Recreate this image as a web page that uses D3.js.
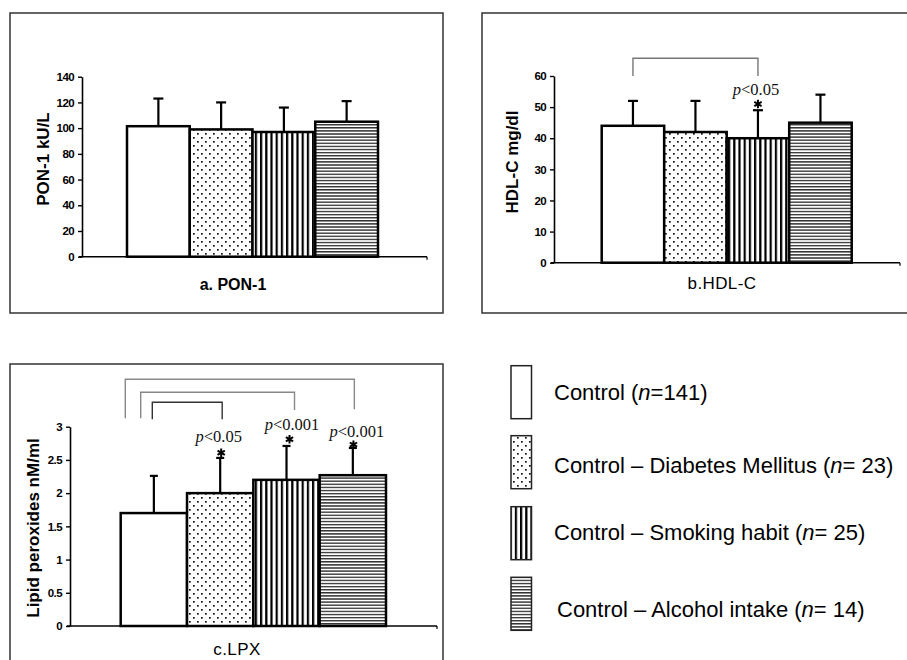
<!DOCTYPE html>
<html>
<head>
<meta charset="utf-8">
<script src="https://cdn.jsdelivr.net/npm/d3@7"></script>
<style>
  html, body { margin: 0; padding: 0; background: #fff; }
  svg { display: block; }
</style>
</head>
<body>
<svg id="chart" width="907" height="660"></svg>
<script>
// ---------------- DATA ----------------
const categories = ["Control", "Control – Diabetes Mellitus", "Control – Smoking habit", "Control – Alcohol intake"];
const legendPrefix = ["Control (", "Control – Diabetes Mellitus (", "Control – Smoking habit (", "Control – Alcohol intake ("];
const legendSuffix = ["=141)", "= 23)", "= 25)", "= 14)"];

const ponMean = [101.5, 99, 97, 105];
const ponSD   = [21.5, 21, 19, 16];
const ponTicks = [0, 20, 40, 60, 80, 100, 120, 140];

const hdlMean = [44, 42, 40, 45];
const hdlSD   = [8, 10, 9, 9];
const hdlTicks = [0, 10, 20, 30, 40, 50, 60];
const hdlSig = [{ from: 0, to: 2, p: "<0.05" }];

const lpxMean = [1.7, 2.0, 2.2, 2.27];
const lpxSD   = [0.56, 0.53, 0.51, 0.41];
const lpxTicks = [0, 0.5, 1, 1.5, 2, 2.5, 3];
const lpxSig = [{ from: 0, to: 1, p: "<0.05" }, { from: 0, to: 2, p: "<0.001" }, { from: 0, to: 3, p: "<0.001" }];

// ---------------- DRAWING ----------------
const svg = d3.select("#chart");
const fills = ["#fff", "url(#pDots)", "url(#pV)", "url(#pH)"];

const defs = svg.append("defs");
const pd = defs.append("pattern").attr("id", "pDots").attr("patternUnits", "userSpaceOnUse")
  .attr("width", 8).attr("height", 8);
pd.append("rect").attr("width", 8).attr("height", 8).attr("fill", "#fff");
pd.append("rect").attr("x", 1).attr("y", 1).attr("width", 1.7).attr("height", 1.7).attr("fill", "#111");
pd.append("rect").attr("x", 5).attr("y", 5).attr("width", 1.7).attr("height", 1.7).attr("fill", "#111");
const pv = defs.append("pattern").attr("id", "pV").attr("patternUnits", "userSpaceOnUse")
  .attr("width", 5.2).attr("height", 5);
pv.append("rect").attr("width", 5.2).attr("height", 5).attr("fill", "#fff");
pv.append("rect").attr("x", 0).attr("width", 2.2).attr("height", 5).attr("fill", "#000");
const ph = defs.append("pattern").attr("id", "pH").attr("patternUnits", "userSpaceOnUse")
  .attr("width", 5).attr("height", 3.1);
ph.append("rect").attr("width", 5).attr("height", 3.1).attr("fill", "#fff");
ph.append("rect").attr("y", 0).attr("width", 5).attr("height", 1.4).attr("fill", "#333");

function panel(cfg) {
  const g = svg.append("g");
  g.append("rect").attr("x", cfg.box[0]).attr("y", cfg.box[1]).attr("width", cfg.box[2]).attr("height", cfg.box[3])
    .attr("fill", "none").attr("stroke", "#333").attr("stroke-width", 1.5);

  const x = d3.scaleBand().domain(categories).range([cfg.barL, cfg.barR]).padding(0);
  const y = d3.scaleLinear().domain([0, cfg.max]).range([cfg.y0, cfg.y1]);

  g.selectAll(".bar").data(cfg.mean).join("rect")
    .attr("x", (d, i) => x(categories[i]))
    .attr("y", d => y(d))
    .attr("width", x.bandwidth())
    .attr("height", d => y(0) - y(d))
    .attr("fill", (d, i) => fills[i])
    .attr("stroke", "#000").attr("stroke-width", 2.5);

  const cx = i => x(categories[i]) + x.bandwidth() / 2;
  g.selectAll(".err").data(cfg.mean).join("line")
    .attr("x1", (d, i) => cx(i)).attr("x2", (d, i) => cx(i))
    .attr("y1", d => y(d)).attr("y2", (d, i) => y(d + cfg.sd[i]))
    .attr("stroke", "#000").attr("stroke-width", 2.2);
  g.selectAll(".cap").data(cfg.mean).join("line")
    .attr("x1", (d, i) => cx(i) - cfg.cap).attr("x2", (d, i) => cx(i) + cfg.cap)
    .attr("y1", (d, i) => y(d + cfg.sd[i])).attr("y2", (d, i) => y(d + cfg.sd[i]))
    .attr("stroke", "#000").attr("stroke-width", 2.2);

  const ax = g.append("g").attr("transform", `translate(${cfg.axisX},0)`)
    .call(d3.axisLeft(y).tickValues(cfg.ticks).tickSize(4).tickSizeOuter(0).tickPadding(4).tickFormat(d => String(d)));
  ax.select(".domain").attr("stroke", "#000").attr("stroke-width", 1.6);
  ax.selectAll(".tick line").attr("stroke", "#000").attr("stroke-width", 1.4);
  ax.selectAll(".tick text").attr("font-family", "Liberation Sans, Arial, sans-serif")
    .attr("font-size", 11.5).attr("font-weight", "bold").attr("fill", "#000").attr("letter-spacing", -0.6);

  g.append("line").attr("x1", cfg.axisX - 3).attr("x2", cfg.axisEnd).attr("y1", y(0)).attr("y2", y(0))
    .attr("stroke", "#000").attr("stroke-width", 1.6);
  g.append("line").attr("x1", cfg.axisEnd).attr("x2", cfg.axisEnd).attr("y1", y(0)).attr("y2", y(0) + 3)
    .attr("stroke", "#000").attr("stroke-width", 1.2);

  g.append("text").attr("transform", `translate(${cfg.ylab[0]},${cfg.ylab[1]}) rotate(-90)`)
    .attr("text-anchor", "middle").attr("dominant-baseline", "central")
    .attr("font-family", "Liberation Sans, Arial, sans-serif").attr("font-size", 17).attr("font-weight", "bold")
    .text(cfg.ylabel);

  g.append("text").attr("x", cfg.title[0]).attr("y", cfg.title[1]).attr("text-anchor", "middle")
    .attr("font-family", "Liberation Sans, Arial, sans-serif").attr("font-size", cfg.titleSize)
    .attr("font-weight", cfg.titleBold ? "bold" : "normal").attr("letter-spacing", cfg.titleBold ? 0 : 0.4)
    .text(cfg.titleText);

  return { x, y, cx, g };
}

panel({
  box: [10, 13, 433, 300], barL: 127, barR: 378, y0: 256.7, y1: 76.7, max: 140,
  axisX: 82, axisEnd: 427, ticks: ponTicks, mean: ponMean, sd: ponSD, cap: 5,
  ylabel: "PON-1 kU/L", ylab: [43, 159], title: [233, 290], titleText: "a. PON-1", titleSize: 16, titleBold: true
});

const pb = panel({
  box: [482, 13, 440, 300], barL: 601.7, barR: 851.7, y0: 262.7, y1: 76, max: 60,
  axisX: 554, axisEnd: 900, ticks: hdlTicks, mean: hdlMean, sd: hdlSD, cap: 5,
  ylabel: "HDL-C mg/dl", ylab: [512, 162], title: [722, 289], titleText: "b.HDL-C", titleSize: 17, titleBold: false
});

const pc = panel({
  box: [10, 364, 433, 320], barL: 120.7, barR: 386, y0: 626, y1: 426.7, max: 3,
  axisX: 70, axisEnd: 437, ticks: lpxTicks, mean: lpxMean, sd: lpxSD, cap: 4,
  ylabel: "Lipid peroxides nM/ml", ylab: [33, 528], title: [237, 655], titleText: "c.LPX", titleSize: 17, titleBold: false
});

function pLabel(g, xc, yb, p) {
  const t = g.append("text").attr("x", xc).attr("y", yb).attr("text-anchor", "middle")
    .attr("font-family", "Liberation Serif, Times New Roman, serif").attr("font-size", 16.5).attr("fill", "#111");
  t.append("tspan").attr("font-style", "italic").text("p");
  t.append("tspan").text(p);
}
// asterisk drawn as a small six-armed mark
function star(g, xc, yc) {
  const r = 4.2;
  const d = [90, 30, 150].map(a => {
    const rad = a * Math.PI / 180, dx = r * Math.cos(rad), dy = r * Math.sin(rad);
    return `M${xc - dx},${yc - dy} L${xc + dx},${yc + dy}`;
  }).join(" ");
  g.append("path").attr("d", d).attr("stroke", "#000").attr("stroke-width", 2).attr("fill", "none");
}

hdlSig.forEach(s => {
  const xl = pb.cx(s.from), xr = pb.cx(s.to);
  pb.g.append("path").attr("d", `M${xl},76 V58.3 H${xr} V76`).attr("fill", "none")
    .attr("stroke", "#777").attr("stroke-width", 1.4);
  pLabel(pb.g, xr - 2, 95, s.p);
  star(pb.g, xr, 104);
});

const brkCfg = [
  { lx: 152.3, top: 402.3, lb: 419.3, rb: 419.3, dx: 2, color: "#333", pY: 441.7, sY: 452.7, sdx: 1 },
  { lx: 140.7, top: 392.3, lb: 418.3, rb: 410, dx: 8, color: "#888", pY: 430, sY: 439.3, sdx: 3 },
  { lx: 125.3, top: 379.3, lb: 418.3, rb: 409.3, dx: 1.5, color: "#888", pY: 436.7, sY: 444.6, sdx: 0.6 }
];
lpxSig.forEach((s, i) => {
  const b = brkCfg[i];
  const xr = pc.cx(s.to) + b.dx;
  pc.g.append("path").attr("d", `M${b.lx},${b.lb} V${b.top} H${xr} V${b.rb}`).attr("fill", "none")
    .attr("stroke", b.color).attr("stroke-width", 1.4);
  pLabel(pc.g, pc.cx(s.to) + (i === 0 ? -1.5 : (i === 1 ? 5.5 : 4)), b.pY, s.p);
  star(pc.g, pc.cx(s.to) + b.sdx, b.sY);
});

const lg = svg.append("g");
const legY = [365.7, 435.7, 506.7, 577.3];
const legTextY = [400, 473.3, 540, 617.3];
const legTextX = [554, 554, 554, 557];
categories.forEach((c, i) => {
  lg.append("rect").attr("x", 511).attr("y", legY[i]).attr("width", 20.5).attr("height", 53)
    .attr("fill", fills[i]).attr("stroke", "#222").attr("stroke-width", 1.5);
  const t = lg.append("text").attr("x", legTextX[i]).attr("y", legTextY[i])
    .attr("font-family", "Liberation Sans, Arial, sans-serif").attr("font-size", 22).attr("fill", "#000");
  t.append("tspan").text(legendPrefix[i]);
  t.append("tspan").attr("font-style", "italic").text("n");
  t.append("tspan").text(legendSuffix[i]);
});
</script>
</body>
</html>
